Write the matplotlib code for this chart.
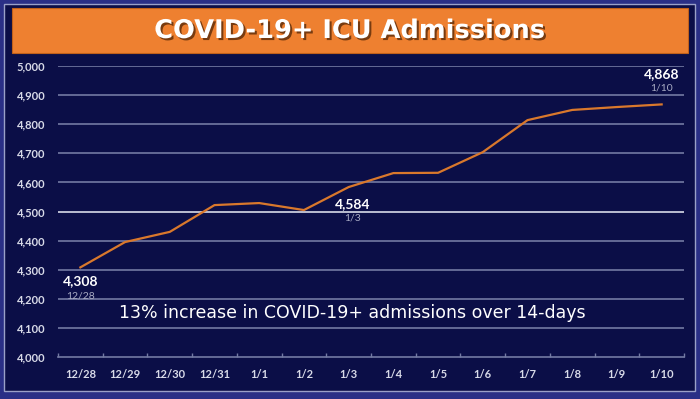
import matplotlib
matplotlib.use("Agg")
import matplotlib.pyplot as plt
from matplotlib.patches import Rectangle
import matplotlib.patheffects as pe

dates = ["12/28", "12/29", "12/30", "12/31", "1/1", "1/2", "1/3", "1/4",
         "1/5", "1/6", "1/7", "1/8", "1/9", "1/10"]
admissions = [4308, 4395, 4430, 4522, 4529, 4505, 4584, 4632, 4633, 4704,
              4814, 4849, 4859, 4868]
yticks = [4000, 4100, 4200, 4300, 4400, 4500, 4600, 4700, 4800, 4900, 5000]
title = "COVID-19+ ICU Admissions"
note = "13% increase in COVID-19+ admissions over 14-days"
labelled = [0, 6, 13]

plt.rcParams['font.family'] = ['Lato', 'DejaVu Sans']

W, H = 700, 399
fig = plt.figure(figsize=(W / 100, H / 100), dpi=100)
fig.patch.set_facecolor("#2a2f86")

# navy panel
fig.add_artist(Rectangle((4 / W, 1 - 391 / H), 691 / W, 387 / H,
                         transform=fig.transFigure, facecolor="#0b0e47",
                         edgecolor="#9aa0c8", linewidth=1.0, zorder=0))
# orange title bar
fig.add_artist(Rectangle((12 / W, 1 - 53 / H), 676 / W, 45 / H,
                         transform=fig.transFigure, facecolor="#ee8030",
                         edgecolor="#c0601a", linewidth=0.8, zorder=1))
fig.text(0.5, 1 - 31 / H, title, ha="center", va="center", color="white",
         fontsize=18.5, fontweight="bold", family=["DejaVu Sans"],
         path_effects=[pe.withSimplePatchShadow(offset=(1.5, -1.5),
                                                shadow_rgbFace="#5a2a08", alpha=0.8)])

ax = fig.add_axes([58 / W, 1 - 357 / H, 626 / W, 291 / H])
ax.set_facecolor("none")
x = list(range(len(dates)))
ax.set_xlim(-0.5, len(dates) - 0.5)
ax.set_ylim(4000, 5000)

for v in yticks:
    if v == 4000:
        continue
    col = "#d8dbe8" if v == 4500 else "#737aa3"
    ax.axhline(v, color=col, linewidth=1.2, zorder=1)

ax.plot(x, admissions, color="#d9782c", linewidth=1.6, zorder=3)

for s in ["top", "right", "left"]:
    ax.spines[s].set_visible(False)
ax.spines["bottom"].set_color("#737aa3")
ax.spines["bottom"].set_linewidth(1.2)

ax.set_yticks(yticks)
ax.set_yticklabels([f"{v:,}" for v in yticks])
ax.tick_params(axis="y", length=0, pad=9, labelsize=8, labelcolor="#d8dae8")
ax.set_xticks(x)
ax.set_xticklabels(dates)
ax.tick_params(axis="x", length=0, pad=9, labelsize=8, labelcolor="#d8dae8")
for lab in ax.get_xticklabels() + ax.get_yticklabels():
    lab.set_fontweight("bold")
ax.set_xticks([i - 0.5 for i in range(len(dates) + 1)], minor=True)
ax.tick_params(axis="x", which="minor", direction="in", length=3,
               color="#737aa3", width=1)

offs = {0: (0, -10), 6: (3, -12), 13: (0, 22)}
for i in labelled:
    dx, dy = offs[i]
    ax.annotate(f"{admissions[i]:,}", (x[i], admissions[i]), xytext=(dx, dy),
                textcoords="offset points", ha="center", va="center",
                color="white", fontsize=10, fontweight="bold", zorder=4)
    ax.annotate(dates[i], (x[i], admissions[i]), xytext=(dx, dy - 10.5),
                textcoords="offset points", ha="center", va="center",
                color="#a8abc4", fontsize=7.5, zorder=4)

fig.text(352 / W, 1 - 313 / H, note, ha="center", va="center",
         color="white", fontsize=12.5, family=["DejaVu Sans"])

fig.savefig("out.png", dpi=100, facecolor=fig.get_facecolor())
